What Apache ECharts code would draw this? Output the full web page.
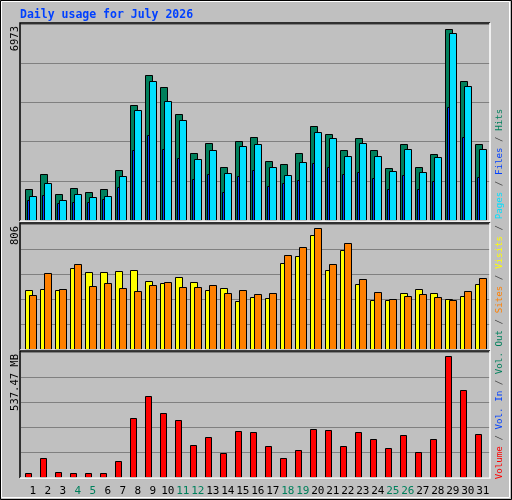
<!DOCTYPE html>
<html><head><meta charset="utf-8">
<script src="https://cdn.jsdelivr.net/npm/echarts@6/dist/echarts.min.js"></script>
<style>html,body{margin:0;padding:0;background:#c0c0c0}#c{width:512px;height:500px}</style>
</head><body><div id="c"></div>
<script>
const days = [1,2,3,4,5,6,7,8,9,10,11,12,13,14,15,16,17,18,19,20,21,22,23,24,25,26,27,28,29,30,31];
const weekend = [4,5,11,12,18,19,25,26];
const hits = [1123,1671,940,1159,1013,1123,1817,4194,5292,4853,3865,2439,2805,1927,2878,3024,2147,2037,2439,3427,3134,2549,2988,2549,1891,2768,1927,2403,6973,5072,2768];
const files = [867,1342,720,940,830,867,1598,4012,5072,4341,3646,2220,2549,1708,2695,2768,1927,1635,2110,3207,2988,2330,2805,2330,1781,2586,1744,2293,6827,4889,2586];
const pages = [720,903,611,647,647,757,1196,2549,3097,2586,2256,1488,1671,1013,1598,1817,1232,1342,1452,2073,1927,1671,1744,1525,1123,1635,1123,1415,4121,3024,1562];
const visits = [393,400,393,540,513,513,520,526,453,440,480,446,393,406,320,347,340,573,620,760,526,660,433,327,327,373,400,373,333,353,433];
const sites = [360,506,400,566,420,440,406,386,426,446,413,413,426,373,393,366,373,626,680,806,566,706,466,380,333,353,366,347,327,386,473];
const volume = [18,84,22,18,18,18,71,261,359,284,253,142,177,106,204,199,137,84,120,213,208,137,199,168,128,186,111,168,537.47,385,190];
const maxLabels = ['6973','806','537.47 MB'];

const chart = echarts.init(document.getElementById('c'));
const L=21, W=469, XMIN=0.713, XMAX=31.98;
const grids=[{left:L,width:W,top:24,height:196},{left:L,width:W,top:224,height:125},{left:L,width:W,top:352,height:125}];
const ymax=[7167,833,553.8];
function barSeries(gi,vals,color,off,w,name){
  return {type:'custom',name:name,xAxisIndex:gi,yAxisIndex:gi,
    data:days.map((d,i)=>[d,vals[i]]),
    renderItem:function(p,api){const d=api.value(0),v=api.value(1);
      const a=api.coord([d,0]),b=api.coord([d,v]);
      return {type:'rect',shape:{x:Math.round(a[0]+off)+0.5,y:Math.round(b[1])+0.5,width:w,height:Math.round(a[1])-Math.round(b[1])},
        style:{fill:color,stroke:'#000',lineWidth:1}};}};
}
const labelSeries={type:'custom',xAxisIndex:2,yAxisIndex:2,data:days.map(d=>[d,0]),
  renderItem:function(p,api){const d=api.value(0);const a=api.coord([d,0]);
    return {type:'text',x:a[0]+7.5,y:a[1]+14,style:{text:String(d),fill:weekend.includes(d)?'#00805c':'#000',
      font:'11px "DejaVu Sans Mono"',textAlign:'center',textVerticalAlign:'middle'}};}};
const xAxes=grids.map((g,i)=>({type:'value',gridIndex:i,min:XMIN,max:XMAX,show:false}));
const yAxes=grids.map((g,i)=>({type:'value',gridIndex:i,min:0,max:ymax[i],interval:ymax[i]/5,
  axisLabel:{show:false},axisTick:{show:false},axisLine:{show:false},splitLine:{lineStyle:{color:'#808080',width:1}}}));
const g=[];
grids.forEach(gr=>{const x0=gr.left-1,y0=gr.top-1,x1=gr.left+gr.width,y1=gr.top+gr.height+1;
  g.push({type:'polyline',shape:{points:[[x0,y1],[x0,y0],[x1,y0]]},style:{stroke:'#000',lineWidth:1.5,fill:null},z:100});
  g.push({type:'polyline',shape:{points:[[x1,y0],[x1,y1],[x0,y1]]},style:{stroke:'#fff',lineWidth:1.5,fill:null},z:100});
});
g.push({type:'rect',shape:{x:0.5,y:0.5,width:511,height:499},style:{fill:null,stroke:'#000',lineWidth:1},z:100});
g.push({type:'rect',shape:{x:1.5,y:1.5,width:508,height:496},style:{fill:null,stroke:'#fff',lineWidth:1},z:100});
g.push({type:'text',x:20,y:15,style:{text:'Daily usage for July 2026',fill:'#0040ff',font:'bold 11.5px "DejaVu Sans Mono"',textVerticalAlign:'middle'}});
const tops=[24,224,352];
maxLabels.forEach((t,i)=>g.push({type:'text',x:15,y:tops[i]+2,rotation:Math.PI/2,
  style:{text:t,fill:'#000',font:'10.5px "DejaVu Sans Mono"',textAlign:'right',textVerticalAlign:'middle'}}));
const sep='{s| / }';
g.push({type:'text',x:500,y:294,rotation:Math.PI/2,style:{
  text:'{r|Volume}'+sep+'{b|Vol. In}'+sep+'{g|Vol. Out}'+sep+'{o|Sites}'+sep+'{y|Visits}'+sep+'{c|Pages}'+sep+'{b|Files}'+sep+'{g|Hits}',
  font:'9.2px "DejaVu Sans Mono"',textAlign:'center',textVerticalAlign:'middle',
  rich:{r:{fill:'#ff0000'},b:{fill:'#0040ff'},g:{fill:'#00805c'},o:{fill:'#ff8000'},y:{fill:'#ffff00'},c:{fill:'#00e0ff'},s:{fill:'#404040'}}}});
chart.setOption({backgroundColor:'#c0c0c0',animation:false,grid:grids,xAxis:xAxes,yAxis:yAxes,
  series:[barSeries(0,hits,'#00805c',0,7,'Hits'),barSeries(0,files,'#00e0ff',4,7,'Files'),barSeries(0,pages,'#0040ff',2,2,'Pages'),
    barSeries(1,visits,'#ffff00',0,7,'Visits'),barSeries(1,sites,'#ff8000',4,7,'Sites'),
    barSeries(2,volume,'#ff0000',0,6,'Volume'),labelSeries],
  graphic:g});
</script></body></html>
